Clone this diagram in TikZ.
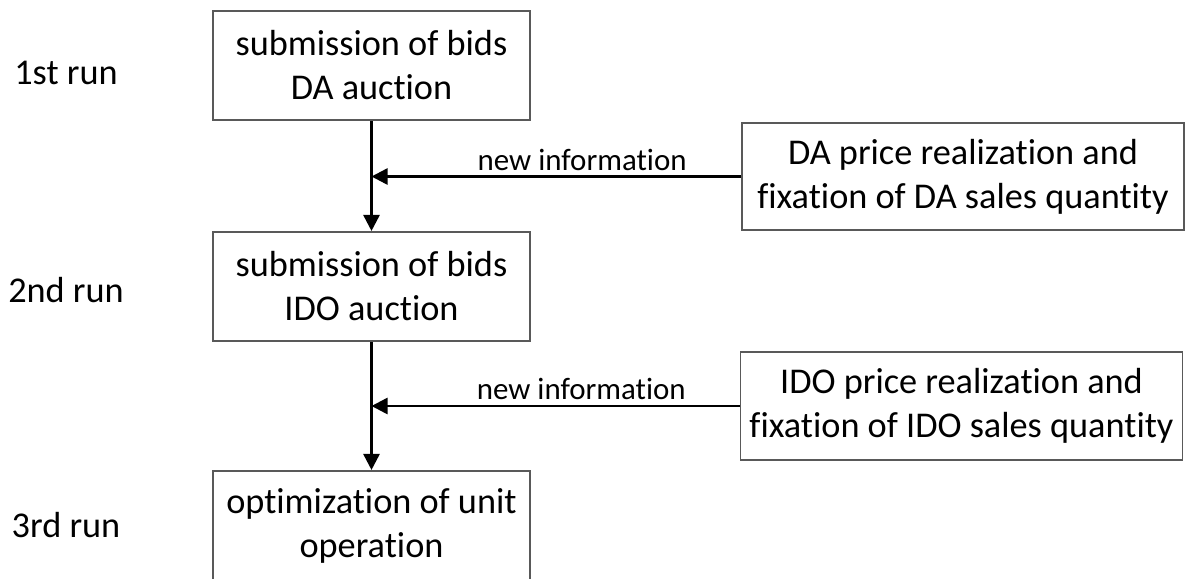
\documentclass[tikz,border=0pt]{standalone}
\usepackage{fontspec}
\setmainfont{Carlito}[Ligatures=NoCommon]
\usetikzlibrary{arrows.meta}

\begin{document}
\begin{tikzpicture} [x=0.025cm, y=-0.025cm]
    \tikzstyle{every node} = [align=center, font=\fontsize{25.8}{31.3}\selectfont]
    \tikzstyle{stage} = [draw=black!65, line width=1.3pt, minimum width=7.93cm, minimum height=2.73cm, inner sep=0pt]
    \tikzstyle{info} = [draw=black!65, line width=1.3pt, minimum width=11.05cm, minimum height=2.69cm, inner sep=0pt]
    \tikzstyle{flow} = [line width=1.8pt, -{Triangle[length=0.4cm, width=0.4cm]}]
    \tikzstyle{small} = [font=\fontsize{22}{26}\selectfont]
    \useasboundingbox (0,0) rectangle (1186,579);
    % runs
    \node (run1) at (66,73) {1st run};
    \node (run2) at (66,290) {2nd run};
    \node (run3) at (66,525) {3rd run};
    % steps of the model
    \node [stage] (bidsDA) at (371.5,65.5) {submission of bids \\ DA auction};
    \node [stage] (bidsIDO) at (371.5,286.5) {submission of bids \\ IDO auction};
    \node [stage] (unitop) at (371.5,525.5) {optimization of unit \\ operation};
    \node [info] (priceDA) at (963,176.5) {DA price realization and \\ fixation of DA sales quantity};
    \node [info] (priceIDO) at (961.5,406) {IDO price realization and \\ fixation of IDO sales quantity};
    \draw [flow] (bidsDA) -- (bidsIDO);
    \draw [flow] (bidsIDO) -- (unitop);
    \draw [flow] (priceDA) -- (priceDA -| bidsDA) node [small, above, pos=0.43] {new information};
    \draw [flow] (priceIDO) -- (priceIDO -| bidsIDO) node [small, above, pos=0.43] {new information};
\end{tikzpicture}
\end{document}
